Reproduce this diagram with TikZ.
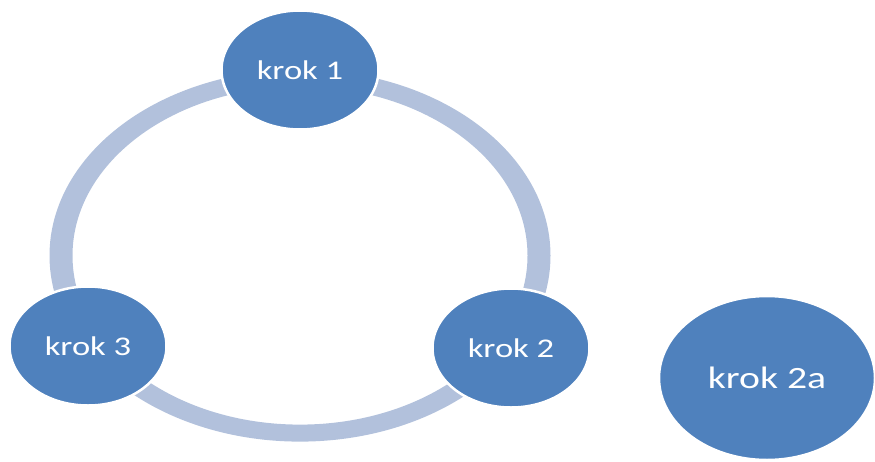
\documentclass[tikz,border=0pt]{standalone}
\usepackage{fontspec}
\setmainfont{Carlito}
\definecolor{stepblue}{HTML}{4F81BD}
\definecolor{ringblue}{HTML}{B2C1DC}
\tikzset{
  stepnode/.style={ellipse, fill=stepblue, draw=white, line width=2.5pt,
    minimum width=157pt, minimum height=119pt, inner sep=0pt,
    text=white, font=\fontsize{27}{30}\selectfont},
  bignode/.style={stepnode, minimum width=216pt, minimum height=164pt,
    font=\fontsize{31}{34}\selectfont}
}
\usetikzlibrary{shapes.geometric}
\newcommand{\wide}[1]{\scalebox{1.28}[1]{#1}}
\begin{document}
\begin{tikzpicture}[x=1pt,y=-1pt]
  \useasboundingbox (0,0) rectangle (875,461);
  % cycle ring behind the steps
  \fill[ringblue, even odd rule]
    (300,255.6) ellipse [x radius=250.5pt, y radius=186pt]
    (300,255.6) ellipse [x radius=227.5pt, y radius=169pt];
  % steps
  \node[stepnode] (k1) at (300,70) {\wide{krok 1}};
  \node[stepnode] (k2) at (511,348) {\wide{krok 2}};
  \node[stepnode] (k3) at (88,346) {\wide{krok 3}};
  \node[bignode] (k2a) at (767,378) {\wide{krok 2a}};
\end{tikzpicture}
\end{document}
